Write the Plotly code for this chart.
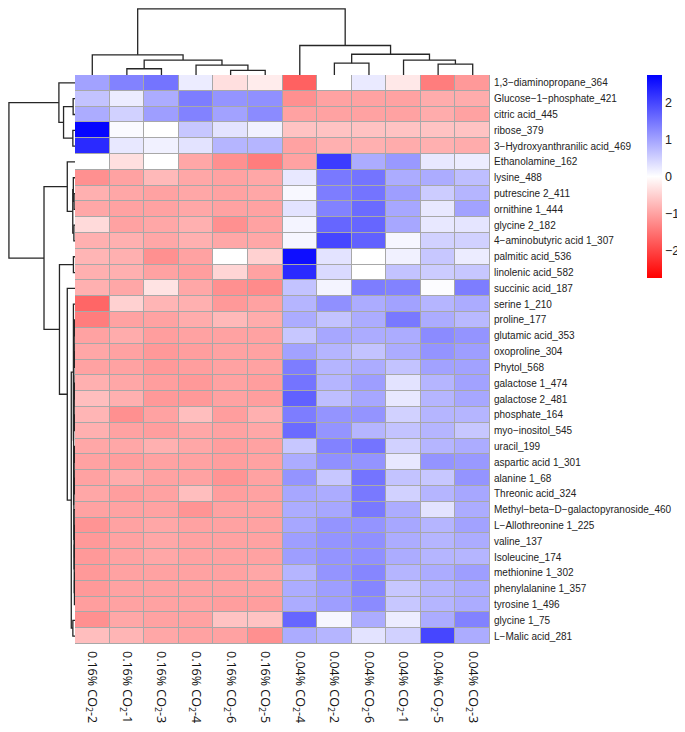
import plotly.graph_objects as go

# ---------------- data ----------------
col_labels = ["0.16% CO<sub>2</sub>-2", "0.16% CO<sub>2</sub>-1", "0.16% CO<sub>2</sub>-3",
              "0.16% CO<sub>2</sub>-4", "0.16% CO<sub>2</sub>-6", "0.16% CO<sub>2</sub>-5",
              "0.04% CO<sub>2</sub>-4", "0.04% CO<sub>2</sub>-2", "0.04% CO<sub>2</sub>-6",
              "0.04% CO<sub>2</sub>-1", "0.04% CO<sub>2</sub>-5", "0.04% CO<sub>2</sub>-3"]

row_labels = ["1,3\u2212diaminopropane_364", "Glucose\u22121\u2212phosphate_421", "citric acid_445",
              "ribose_379", "3\u2212Hydroxyanthranilic acid_469", "Ethanolamine_162", "lysine_488",
              "putrescine 2_411", "ornithine 1_444", "glycine 2_182", "4\u2212aminobutyric acid 1_307",
              "palmitic acid_536", "linolenic acid_582", "succinic acid_187", "serine 1_210",
              "proline_177", "glutamic acid_353", "oxoproline_304", "Phytol_568", "galactose 1_474",
              "galactose 2_481", "phosphate_164", "myo\u2212inositol_545", "uracil_199",
              "aspartic acid 1_301", "alanine 1_68", "Threonic acid_324",
              "Methyl\u2212beta\u2212D\u2212galactopyranoside_460", "L\u2212Allothreonine 1_225",
              "valine_137", "Isoleucine_174", "methionine 1_302", "phenylalanine 1_357",
              "tyrosine 1_496", "glycine 1_75", "L\u2212Malic acid_281"]

values = [
    [1.00, 1.35, 1.50, 0.20, -0.35, -0.20, -1.70, 0.00, 0.23, -0.25, -1.40, -1.10],
    [0.65, 0.20, 0.90, 1.40, 1.15, 1.20, -1.20, -1.00, -1.00, -1.00, -0.90, -0.90],
    [0.90, 0.50, 1.05, 1.35, 1.00, 1.25, -1.00, -1.00, -1.00, -1.00, -0.90, -1.00],
    [2.70, 0.05, 0.00, 0.60, 0.30, 0.15, -0.65, -0.65, -0.66, -0.65, -0.65, -0.65],
    [2.30, 0.25, 0.15, 0.30, 0.80, 0.80, -1.00, -0.85, -0.85, -0.90, -0.85, -0.90],
    [0.00, -0.35, 0.00, -0.95, -1.20, -1.40, -1.00, 2.10, 0.90, 1.10, 0.25, 0.20],
    [-1.20, -1.00, -0.75, -0.95, -1.00, -0.95, 0.25, 1.45, 1.50, 0.90, 0.90, 0.70],
    [-0.85, -0.95, -1.00, -0.95, -1.00, -0.95, 0.08, 1.40, 1.50, 1.05, 0.55, 0.80],
    [-0.95, -1.00, -1.00, -0.95, -1.00, -1.00, 0.30, 1.35, 1.60, 0.95, 0.25, 1.00],
    [-0.40, -1.00, -0.95, -0.85, -1.20, -1.00, 0.12, 1.65, 1.65, 0.95, 0.25, 0.28],
    [-0.85, -0.85, -0.95, -0.85, -0.95, -0.95, 0.10, 2.00, 1.70, 0.10, 0.50, 0.50],
    [-0.80, -0.85, -1.20, -1.00, 0.00, -0.50, 2.60, 0.30, 0.00, 0.15, 0.60, 0.20],
    [-0.85, -0.85, -1.00, -1.05, -0.45, -1.00, 2.30, 0.40, 0.00, 0.65, 0.55, 0.60],
    [-0.85, -0.95, -0.30, -0.95, -1.20, -1.25, 0.65, 0.12, 1.40, 1.35, 0.03, 1.40],
    [-1.65, -0.50, -0.80, -0.85, -1.10, -1.00, 0.80, 1.20, 0.90, 1.00, 0.80, 0.90],
    [-1.40, -1.00, -1.00, -0.90, -0.75, -0.90, 0.90, 0.65, 0.90, 1.45, 0.90, 0.75],
    [-1.00, -0.90, -1.05, -1.00, -1.00, -1.00, 0.60, 0.95, 0.90, 0.90, 1.25, 1.15],
    [-0.95, -1.00, -1.10, -1.05, -1.00, -1.00, 1.00, 0.80, 0.65, 0.90, 1.15, 1.05],
    [-1.00, -1.00, -1.10, -1.05, -1.00, -1.00, 1.40, 0.80, 0.90, 0.65, 1.00, 1.00],
    [-0.85, -0.95, -1.05, -1.10, -1.00, -1.05, 1.50, 0.80, 1.05, 0.30, 0.80, 1.00],
    [-0.70, -0.85, -1.10, -1.10, -1.00, -1.05, 1.70, 0.70, 0.95, 0.25, 0.80, 0.95],
    [-0.80, -1.20, -1.00, -0.70, -1.05, -0.85, 1.40, 1.15, 1.15, 0.50, 0.80, 0.80],
    [-0.85, -1.00, -1.05, -0.95, -1.00, -0.95, 1.60, 1.15, 0.80, 0.65, 0.80, 0.60],
    [-0.95, -0.95, -0.85, -0.95, -1.05, -1.00, 0.60, 1.35, 1.50, 0.50, 0.80, 0.90],
    [-1.00, -1.05, -1.00, -1.00, -1.05, -1.00, 0.90, 1.20, 1.15, 0.25, 1.15, 1.10],
    [-1.00, -0.90, -1.00, -1.00, -1.15, -1.00, 1.15, 0.60, 1.50, 0.65, 0.60, 1.15],
    [-0.95, -1.05, -1.00, -0.70, -1.05, -1.00, 0.95, 0.90, 1.45, 0.50, 0.80, 0.95],
    [-1.00, -1.00, -1.00, -1.15, -1.00, -1.00, 0.90, 0.95, 1.45, 0.90, 0.30, 0.90],
    [-1.15, -1.00, -0.95, -1.00, -1.00, -1.00, 0.95, 1.15, 1.15, 0.95, 0.80, 1.00],
    [-1.10, -1.00, -0.95, -1.00, -1.00, -1.00, 1.05, 1.15, 1.20, 0.90, 0.80, 0.90],
    [-1.10, -1.00, -0.95, -1.00, -1.00, -1.00, 1.05, 1.15, 1.20, 0.90, 0.80, 0.80],
    [-1.10, -1.00, -1.00, -1.00, -1.00, -0.95, 0.80, 1.15, 1.30, 0.80, 0.90, 1.05],
    [-1.10, -1.00, -1.00, -1.00, -1.00, -1.00, 0.90, 1.05, 1.30, 0.60, 0.80, 0.90],
    [-1.05, -1.00, -1.00, -1.00, -1.05, -1.05, 0.90, 1.05, 1.25, 0.60, 0.80, 0.90],
    [-1.20, -0.95, -1.00, -1.00, -0.65, -0.65, 1.65, 0.10, 0.90, 0.20, 0.90, 1.35],
    [-0.70, -0.80, -0.95, -1.00, -1.00, -1.20, 0.90, 0.80, 0.30, 0.50, 2.00, 0.90],
]

# dendrogram merges: (child a, child b, height)
# indices < n are leaves (display order); >= n are earlier merges
col_merges = [(1, 2, 6.7), (4, 5, 5.0), (3, 13, 10.7), (12, 14, 16.0), (0, 15, 21.7),
              (7, 8, 12.7), (10, 11, 11.7), (9, 18, 16.0), (17, 19, 22.3), (6, 20, 31.7),
              (16, 21, 71.0)]

row_merges = [(1, 2, 2.0), (3, 4, 2.3), (36, 37, 12.3), (0, 38, 17.3),
              (7, 8, 1.0), (6, 40, 1.8), (9, 10, 1.2), (41, 42, 2.4), (5, 43, 8.3),
              (11, 12, 1.7),
              (15, 16, 0.6), (17, 18, 0.5), (46, 47, 0.9), (19, 20, 0.6), (21, 22, 0.7),
              (49, 50, 1.0), (48, 51, 1.3), (23, 24, 0.6), (25, 26, 0.7), (53, 54, 1.0),
              (28, 29, 0.4), (56, 30, 0.5), (31, 32, 0.4), (58, 33, 0.6), (57, 59, 0.8),
              (27, 60, 1.0), (55, 61, 1.2), (52, 62, 1.5), (14, 63, 1.7), (34, 35, 2.3),
              (64, 65, 4.0), (13, 66, 8.3), (45, 67, 16.7), (44, 68, 33.3), (39, 69, 71.0)]

colorbar_ticks = [-2, -1, 0, 1, 2]

# ---------------- geometry (pixels in the window) ----------------
OFF = 8                     # default page body margin
W, H = 685 - OFF, 732 - OFF  # figure size that fits the window
hm_left, hm_right, hm_top, hm_bottom = 75, 490, 75, 644
tree_range = 72


def px_x(p):
    return (p - OFF) / W


def px_y(p):
    return 1 - (p - OFF) / H


def dendro_segments(merges, n):
    pos = {i: float(i) for i in range(n)}
    hgt = {i: 0.0 for i in range(n)}
    segs = []
    for k, (a, b, h) in enumerate(merges):
        node = n + k
        pa, pb = pos[a], pos[b]
        segs.append(([pa, pa, pb, pb], [hgt[a], h, h, hgt[b]]))
        pos[node] = (pa + pb) / 2
        hgt[node] = h
    return segs


ncol = len(col_labels)
nrow = len(row_labels)

fig = go.Figure()

fig.add_trace(go.Heatmap(
    z=values, x=list(range(ncol)), y=list(range(nrow)),
    colorscale=[[0, "#FF0000"], [0.5, "#FFFFFF"], [1, "#0000FF"]],
    zmin=-2.75, zmax=2.75, xgap=1, ygap=1,
    colorbar=dict(x=px_x(647), xanchor="left", y=px_y(75), yanchor="top",
                  xpad=0, ypad=0,
                  len=203, lenmode="pixels", thickness=15, thicknessmode="pixels",
                  outlinewidth=0, ticks="", tickvals=colorbar_ticks,
                  tickfont=dict(family="Liberation Sans, Arial", size=12.5, color="#222")),
    xaxis="x", yaxis="y", hoverinfo="skip"))

line_style = dict(color="#262626", width=1.3)
for xs, hs in dendro_segments(col_merges, ncol):
    fig.add_trace(go.Scatter(x=xs, y=hs, mode="lines", line=line_style,
                             xaxis="x2", yaxis="y2", showlegend=False, hoverinfo="skip"))
for ys, hs in dendro_segments(row_merges, nrow):
    fig.add_trace(go.Scatter(x=hs, y=ys, mode="lines", line=line_style,
                             xaxis="x3", yaxis="y3", showlegend=False, hoverinfo="skip"))

hm_xdom = [px_x(hm_left), px_x(hm_right)]
hm_ydom = [px_y(hm_bottom), px_y(hm_top)]

fig.update_layout(
    width=W, height=H, margin=dict(l=0, r=0, t=0, b=0),
    paper_bgcolor="white", plot_bgcolor="rgba(0,0,0,0)", showlegend=False,
    xaxis=dict(domain=hm_xdom, range=[-0.5, ncol - 0.5], tickmode="array",
               tickvals=list(range(ncol)), ticktext=col_labels, tickangle=90,
               ticks="", showgrid=False, zeroline=False, showline=False,
               ticklabelstandoff=6, automargin=False,
               tickfont=dict(family="Open Sans, Noto Sans", size=12.5, color="#111")),
    yaxis=dict(domain=hm_ydom, range=[nrow - 0.5, -0.5], tickmode="array",
               tickvals=list(range(nrow)), ticktext=row_labels, side="right",
               anchor="x", ticks="", showgrid=False, zeroline=False, showline=False,
               ticklabelstandoff=3, automargin=False,
               tickfont=dict(family="Liberation Sans, Arial", size=10, color="#222")),
    xaxis2=dict(domain=hm_xdom, range=[-0.5, ncol - 0.5], anchor="y2", visible=False,
                automargin=False),
    yaxis2=dict(domain=[px_y(hm_top), 1], range=[0, tree_range], anchor="x2",
                visible=False, automargin=False),
    xaxis3=dict(domain=[0, px_x(hm_left)], range=[tree_range, 0], anchor="y3",
                visible=False, automargin=False),
    yaxis3=dict(domain=hm_ydom, range=[nrow - 0.5, -0.5], anchor="x3", visible=False,
                automargin=False),
    shapes=[dict(type="rect", xref="x", yref="y", x0=-0.5, x1=ncol - 0.5,
                 y0=-0.5, y1=nrow - 0.5, fillcolor="#A8A8A8",
                 line=dict(color="#A8A8A8", width=1), layer="below")],
)

fig.write_html("out.html")
